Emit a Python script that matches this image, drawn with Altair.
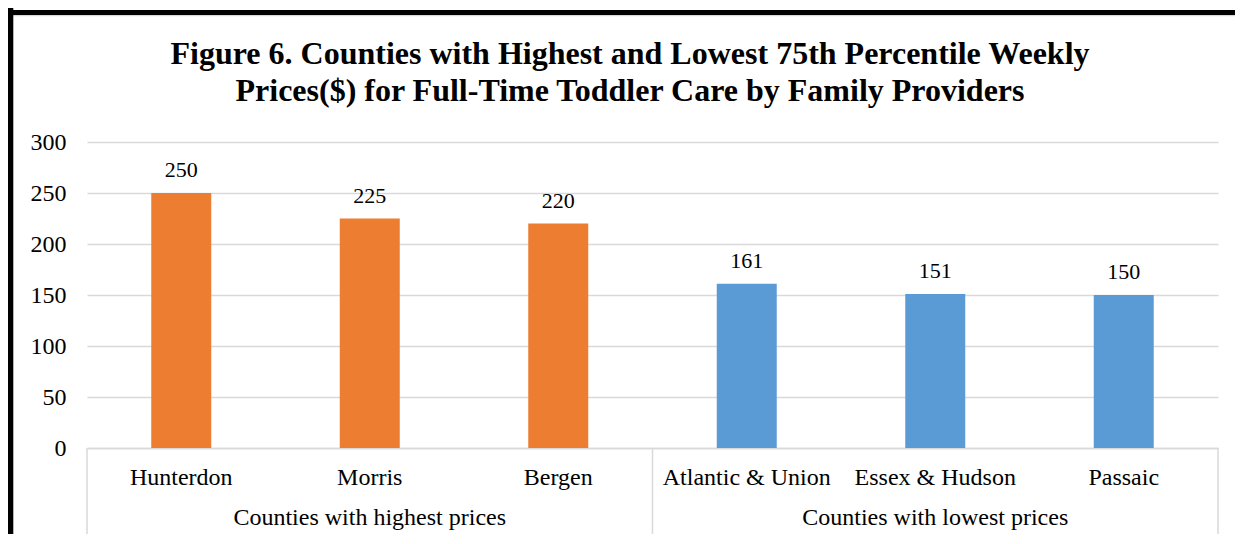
import altair as alt
import pandas as pd

counties = ["Hunterdon", "Morris", "Bergen", "Atlantic & Union", "Essex & Hudson", "Passaic"]
prices = [250, 225, 220, 161, 151, 150]
groups = ["Counties with highest prices"] * 3 + ["Counties with lowest prices"] * 3
group_names = ["Counties with highest prices", "Counties with lowest prices"]
group_centers = ["Morris", "Essex & Hudson"]
group_colors = ["#ED7D31", "#5B9BD5"]
y_ticks = [0, 50, 100, 150, 200, 250, 300]
title_lines = [
    "Figure 6. Counties with Highest and Lowest 75th Percentile Weekly",
    "Prices($) for Full-Time Toddler Care by Family Providers",
]

FONT = "Liberation Serif"
GRID = "#D9D9D9"
W, H = 1131, 306

df = pd.DataFrame({"county": counties, "price": prices, "group": groups})
gdf = pd.DataFrame({"county": group_centers, "label": group_names})
sep_left = pd.DataFrame({"county": ["Hunterdon", "Atlantic & Union"]})
sep_right = pd.DataFrame({"county": ["Passaic"]})
one = pd.DataFrame({"k": [0]})

xscale = alt.Scale(domain=counties, paddingInner=0, paddingOuter=0)
yscale = alt.Scale(domain=[0, 300])
xaxis = alt.Axis(title=None, labelAngle=0, ticks=False, labelPadding=17,
                 labelFont=FONT, labelFontSize=24, labelColor="black",
                 domainColor=GRID, domainWidth=1.5, grid=False)
yaxis = alt.Axis(title=None, values=y_ticks, domain=False, ticks=False,
                 labelPadding=21, labelFont=FONT, labelFontSize=24,
                 labelColor="black", gridColor=GRID, gridWidth=1.5)


def xenc(band=None):
    if band is None:
        return alt.X("county:N", scale=xscale, sort=None, axis=xaxis)
    return alt.X("county:N", scale=xscale, sort=None, axis=xaxis, bandPosition=band)


def yenc():
    return alt.Y("price:Q", scale=yscale, axis=yaxis)


bars = alt.Chart(df).mark_bar(size=60).encode(
    x=xenc(), y=yenc(),
    color=alt.Color("group:N", scale=alt.Scale(domain=group_names, range=group_colors),
                    legend=None),
)

labels = alt.Chart(df).mark_text(font=FONT, fontSize=22, color="black",
                                 baseline="alphabetic", dy=-16).encode(
    x=xenc(), y=yenc(), text=alt.Text("price:Q"),
)

group_text = alt.Chart(gdf).mark_text(font=FONT, fontSize=24, color="black",
                                      baseline="alphabetic").encode(
    x=xenc(), y=alt.value(H + 77), text="label:N",
)

sep1 = alt.Chart(sep_left).mark_rule(color=GRID, strokeWidth=1.5).encode(
    x=xenc(0), y=alt.value(H), y2=alt.value(H + 92),
)
sep2 = alt.Chart(sep_right).mark_rule(color=GRID, strokeWidth=1.5).encode(
    x=xenc(1), y=alt.value(H), y2=alt.value(H + 92),
)

title = alt.Chart(one).mark_text(font=FONT, fontSize=32, fontWeight="bold", color="black",
                                 align="center", baseline="alphabetic", lineHeight=37).encode(
    x=alt.value(543), y=alt.value(-78), text=alt.value(title_lines),
)

border_left = alt.Chart(one).mark_rule(color="black", strokeWidth=6).encode(
    x=alt.value(-76.7), y=alt.value(-140), y2=alt.value(H + 100))
border_top = alt.Chart(one).mark_rule(color="black", strokeWidth=5).encode(
    y=alt.value(-129.5), x=alt.value(-90), x2=alt.value(W + 40))
border_top_grey = alt.Chart(one).mark_rule(color=GRID, strokeWidth=1.5).encode(
    y=alt.value(-126.5), x=alt.value(-74), x2=alt.value(W + 40))

chart = alt.layer(
    border_top_grey, border_left, border_top, title, bars, labels, sep1, sep2, group_text
).properties(
    width=W, height=H,
    background="white",
    autosize=alt.AutoSizeParams(type="none"),
    padding={"left": 79, "top": 134, "right": 17, "bottom": 86},
).configure_view(stroke=None)

chart.save("out.html", embed_options={"renderer": "svg", "actions": False})
